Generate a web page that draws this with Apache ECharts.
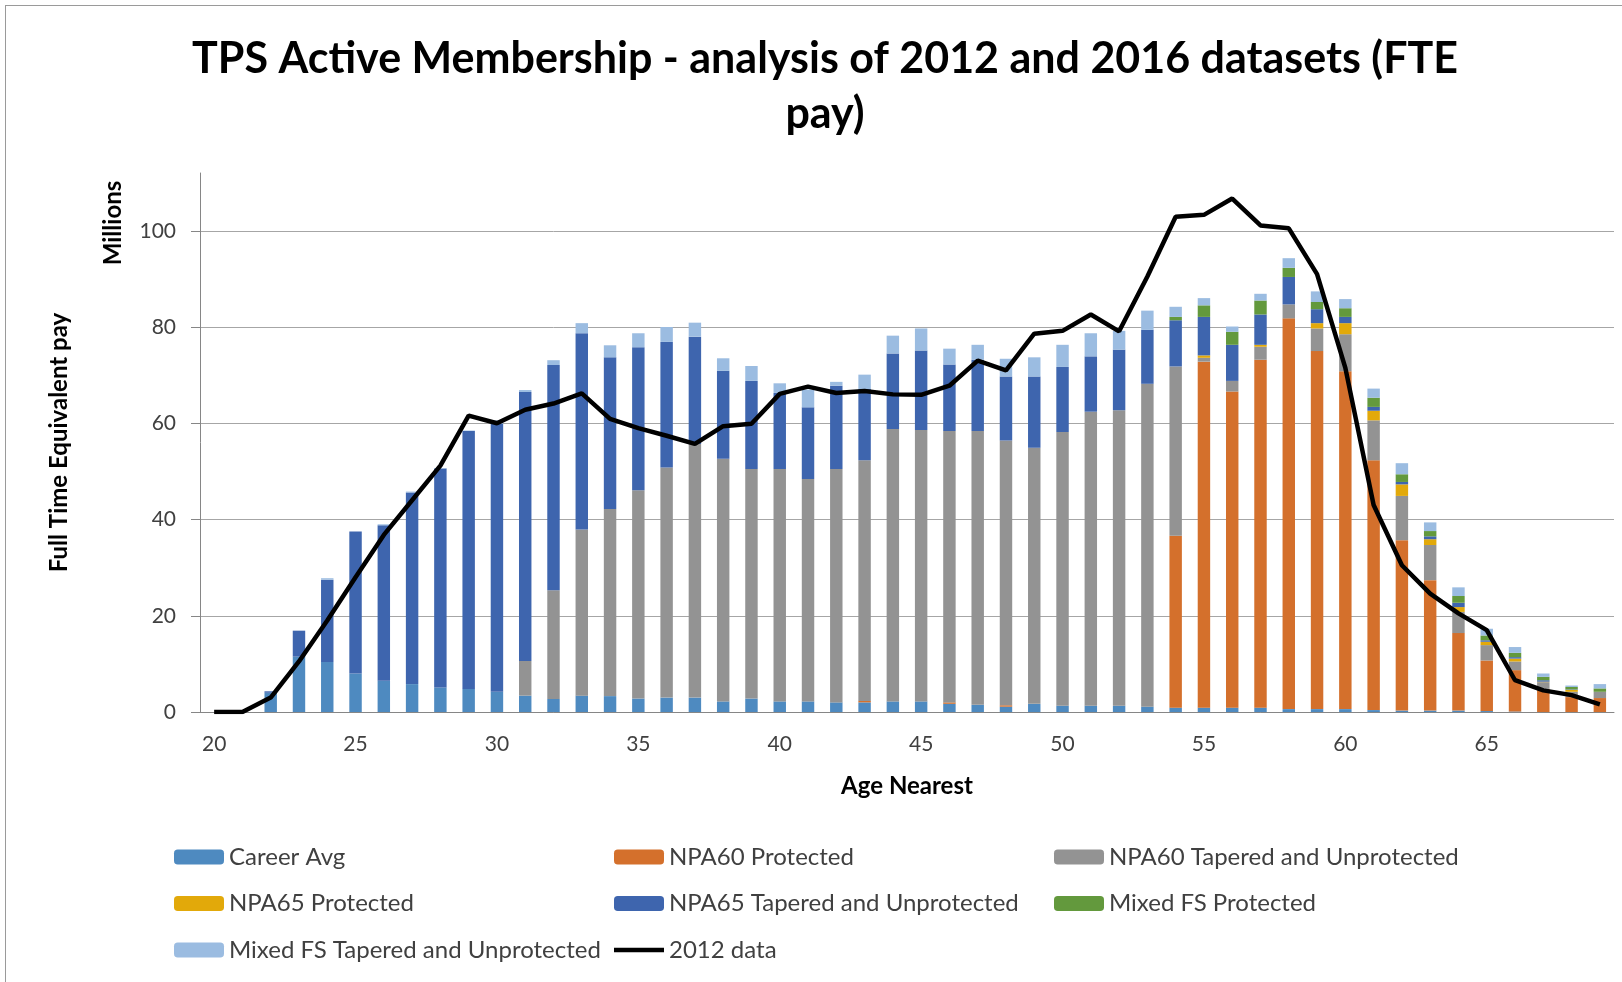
<!DOCTYPE html>
<html>
<head>
<meta charset="utf-8">
<script src="https://cdn.jsdelivr.net/npm/echarts@6/dist/echarts.min.js"></script>
<style>
  html, body { margin: 0; padding: 0; background: #fff; overflow: hidden; }
  #frame { position: absolute; left: 5px; top: 5px; width: 1700px; height: 1100px; border: 1px solid #9a9a9a; }
  #main { position: absolute; left: 0; top: 0; width: 1622px; height: 982px; }
</style>
</head>
<body>
<div id="frame"></div>
<div id="main"></div>
<script>
// ages on the x axis
var ages = ['20','21','22','23','24','25','26','27','28','29',
            '30','31','32','33','34','35','36','37','38','39',
            '40','41','42','43','44','45','46','47','48','49',
            '50','51','52','53','54','55','56','57','58','59',
            '60','61','62','63','64','65','66','67','68','69'];

// 2016 data, stacked (millions)
var careerAvg = [0,0,4.0,11.5,10.4,8.0,6.5,5.8,5.1,4.8,
                 4.2,3.4,2.7,3.4,3.3,2.8,3.0,3.0,2.2,2.8,
                 2.2,2.2,2.0,2.0,2.2,2.2,1.7,1.5,1.1,1.7,
                 1.3,1.3,1.3,1.1,0.9,0.9,0.9,0.9,0.6,0.6,
                 0.6,0.4,0.3,0.3,0.3,0.2,0.1,0,0,0];
var npa60Prot = [0,0,0,0,0,0,0,0,0,0,
                 0,0,0,0,0,0,0,0,0,0,
                 0,0,0,0.3,0,0,0.3,0,0.3,0,
                 0,0,0,0,35.7,71.9,65.7,72.3,81.2,74.4,
                 70.2,51.9,35.4,27.1,16.1,10.5,8.6,4.8,3.1,2.9];
var npa60Tap = [0,0,0,0,0,0,0,0,0,0,
                0,7.2,22.6,34.5,38.9,43.3,47.8,52.7,50.4,47.7,
                48.3,46.2,48.5,50.0,56.6,56.4,56.4,56.9,55.0,53.2,
                56.9,61.1,61.4,67.1,35.2,0.8,2.2,2.7,2.9,4.7,
                7.7,8.3,9.2,7.3,4.4,3.2,1.8,1.4,1.1,1.3];
var npa65Prot = [0,0,0,0,0,0,0,0,0,0,
                 0,0,0,0,0,0,0,0,0,0,
                 0,0,0,0,0,0,0,0,0,0,
                 0,0,0,0,0,0.5,0,0.4,0,1.1,
                 2.3,2.0,2.4,1.2,1.0,0.7,0.6,0.1,0.4,0];
var npa65Tap = [0,0,0.3,5.4,17.1,29.5,32.3,39.8,45.5,53.6,
                55.7,55.9,46.8,40.8,31.5,29.7,26.1,22.3,18.3,18.3,
                15.8,14.9,17.3,14.8,15.7,16.5,13.8,14.8,13.3,14.8,
                13.5,11.5,12.6,11.2,9.6,8.0,7.5,6.3,5.7,2.9,
                1.3,0.8,0.5,0.6,0.9,0.3,0.3,0.3,0.1,0];
var mixedProt = [0,0,0,0,0,0,0,0,0,0,
                 0,0,0,0,0,0,0,0,0,0,
                 0,0,0,0,0,0,0,0,0,0,
                 0,0,0,0,0.7,2.4,2.7,2.9,1.9,1.5,
                 1.8,1.9,1.6,1.1,1.4,1.0,0.9,0.7,0.5,0.7];
var mixedTap = [0,0,0,0,0.3,0,0.2,0.2,0.1,0.1,
                0.7,0.4,1.0,2.1,2.5,2.9,3.1,2.9,2.6,3.1,
                2.0,3.7,0.8,3.0,3.7,4.6,3.3,3.1,3.7,4.0,
                4.6,4.8,3.9,4.0,2.1,1.5,1.1,1.4,2.0,2.2,
                1.9,1.9,2.3,1.8,1.8,1.4,1.2,0.7,0.3,0.9];

// 2012 totals
var data2012 = [0,0,3.0,10.5,19.0,28.0,36.8,44.0,51.2,61.6,
                60.0,62.8,64.1,66.2,60.9,59.0,57.4,55.7,59.4,59.9,
                66.1,67.6,66.3,66.7,66.0,65.9,67.8,73.0,71.0,78.6,
                79.2,82.6,79.1,90.5,102.9,103.3,106.7,101.1,100.5,91.0,
                71.5,43.0,30.5,24.6,20.5,17.0,6.6,4.5,3.5,1.6];

var barSeries = [
  ['Career Avg', careerAvg, '#4e8ac0'],
  ['NPA60 Protected', npa60Prot, '#d4702c'],
  ['NPA60 Tapered and Unprotected', npa60Tap, '#939393'],
  ['NPA65 Protected', npa65Prot, '#e2a90a'],
  ['NPA65 Tapered and Unprotected', npa65Tap, '#3e65ae'],
  ['Mixed FS Protected', mixedProt, '#63993d'],
  ['Mixed FS Tapered and Unprotected', mixedTap, '#9bbce1']
];

var font = 'Lato, "Open Sans", sans-serif';
var series = [];
barSeries.forEach(function (s) {
  series.push({
    name: s[0],
    type: 'bar',
    stack: 'total',
    barWidth: '44%',
    itemStyle: { color: s[2] },
    data: s[1]
  });
});
series.push({
  name: '2012 data',
  type: 'line',
  symbol: 'none',
  lineStyle: { color: '#000', width: 4.5 },
  itemStyle: { color: '#000' },
  data: data2012,
  z: 5
});

// one vertical legend per column, so the columns line up like the original
function legendCol(left, names) {
  return {
    orient: 'vertical',
    left: left,
    top: 840,
    itemWidth: 50,
    itemHeight: 15,
    itemGap: 22.5,
    textStyle: { fontFamily: font, fontSize: 24, color: '#404040' },
    data: names
  };
}

var myChart = echarts.init(document.getElementById('main'));
var option = {
  animation: false,
  legend: [
    legendCol(169, ['Career Avg', 'NPA65 Protected', 'Mixed FS Tapered and Unprotected']),
    legendCol(609, ['NPA60 Protected', 'NPA65 Tapered and Unprotected',
                    { name: '2012 data', icon: 'path://M0,0L50,0L50,4.5L0,4.5Z' }]),
    legendCol(1049, ['NPA60 Tapered and Unprotected', 'Mixed FS Protected'])
  ],
  graphic: [{
    // title, centred a little right of the chart middle as in the original
    type: 'text',
    x: 825,
    y: 87,
    style: {
      text: 'TPS Active Membership - analysis of 2012 and 2016 datasets (FTE\npay)',
      font: 'bold 43px ' + font,
      lineHeight: 55,
      fill: '#000',
      align: 'center',
      verticalAlign: 'middle'
    }
  }, {
    type: 'text',
    x: 113,
    y: 223,
    rotation: Math.PI / 2,
    style: {
      text: 'Millions',
      font: 'bold 24px ' + font,
      fill: '#000',
      align: 'center',
      verticalAlign: 'middle'
    }
  }],
  grid: { left: 200, right: 8, top: 173, bottom: 270 },
  xAxis: {
    type: 'category',
    data: ages,
    name: 'Age Nearest',
    nameLocation: 'middle',
    nameGap: 62,
    nameTextStyle: { fontFamily: font, fontSize: 24, fontWeight: 'bold', color: '#000' },
    axisLine: { lineStyle: { color: '#868686', width: 1 } },
    axisTick: { interval: 4, length: 8, lineStyle: { color: '#868686' } },
    axisLabel: { interval: 4, margin: 22, fontFamily: font, fontSize: 21, color: '#404040' }
  },
  yAxis: {
    type: 'value',
    min: 0,
    max: 112,
    interval: 20,
    name: 'Full Time Equivalent pay',
    nameLocation: 'middle',
    nameGap: 129,
    nameTextStyle: { fontFamily: font, fontSize: 24, fontWeight: 'bold', color: '#000' },
    axisLine: { show: true, lineStyle: { color: '#868686', width: 1 } },
    axisTick: { show: true, length: 9, lineStyle: { color: '#868686' } },
    axisLabel: { margin: 24, showMaxLabel: false, fontFamily: font, fontSize: 21, color: '#404040' },
    splitLine: { showMaxLine: false, lineStyle: { color: '#a6a6a6', width: 1 } }
  },
  series: series
};
myChart.setOption(option);
</script>
</body>
</html>
